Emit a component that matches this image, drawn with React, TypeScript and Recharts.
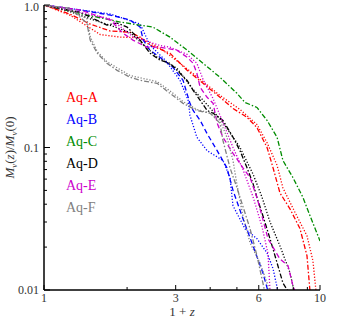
import { LineChart, Line, XAxis, YAxis, Legend } from 'recharts'

// halo names + colours, in legend order
const haloNames = ['Aq-A', 'Aq-B', 'Aq-C', 'Aq-D', 'Aq-E', 'Aq-F']
const haloColors = ['#ff0000', '#0000ff', '#008c00', '#000000', '#cc00cc', '#808080']

// 1+z ticks
const xTicks = [1, 2, 3, 4, 5, 6, 7, 8, 9, 10]
const xLabels = [1, 3, 6, 10]
const yTicks = [0.01, 0.02, 0.03, 0.04, 0.05, 0.06, 0.07, 0.08, 0.09, 0.1, 0.2, 0.3, 0.4, 0.5, 0.6, 0.7, 0.8, 0.9, 1]
const yLabels: Record<number, string> = { 0.01: '0.01', 0.1: '0.1', 1: '1.0' }

// [1+z, Mv(z)/Mv(0)]
const aqA_main = [[1, 1], [1.24, 0.864], [1.47, 0.735], [1.74, 0.656], [2.05, 0.645], [2.23, 0.595], [2.42, 0.523], [2.86, 0.459], [3.3, 0.348], [3.77, 0.282], [4.34, 0.225], [4.84, 0.188], [5.44, 0.163], [5.91, 0.138], [6.43, 0.1], [6.76, 0.072], [7.16, 0.048], [7.79, 0.037], [8.46, 0.027], [8.97, 0.0174], [9.2, 0.0098]]
const aqA_dot = [[1, 1], [1.24, 0.85], [1.6, 0.62], [1.89, 0.595], [2.23, 0.59], [2.63, 0.5], [3.11, 0.39], [3.77, 0.29], [4.34, 0.232], [5.13, 0.185], [5.91, 0.145], [6.43, 0.108], [6.99, 0.075], [7.34, 0.052], [8.12, 0.035], [8.97, 0.024], [9.43, 0.016], [9.67, 0.0098]]

const aqB_main = [[1, 1], [1.35, 0.922], [1.74, 0.85], [2.05, 0.784], [2.23, 0.7], [2.29, 0.567], [2.42, 0.482], [2.63, 0.43], [2.93, 0.366], [3.19, 0.296], [3.38, 0.204], [3.47, 0.182], [3.68, 0.155], [3.9, 0.125], [4.24, 0.095], [4.6, 0.072], [4.84, 0.05], [5.26, 0.0316], [5.72, 0.0204], [6.21, 0.0132], [6.48, 0.0098]]
const aqB_dot = [[1, 1], [1.74, 0.864], [2.23, 0.735], [2.42, 0.523], [2.75, 0.41], [3.11, 0.296], [3.33, 0.214], [3.38, 0.168], [3.58, 0.118], [3.9, 0.095], [4.45, 0.081], [4.72, 0.0615], [4.84, 0.039], [5.35, 0.0269], [5.91, 0.0229], [6.43, 0.0182], [6.76, 0.0141], [7.04, 0.0098]]

const aqC_main = [[1, 1], [1.38, 0.864], [1.89, 0.759], [2.1, 0.735], [2.48, 0.7], [2.86, 0.595], [3.3, 0.482], [3.77, 0.39], [4.34, 0.311], [5.0, 0.24], [5.35, 0.207], [5.91, 0.191], [6.43, 0.155], [6.99, 0.118], [7.34, 0.081], [7.98, 0.0615], [8.68, 0.0445], [9.2, 0.0332], [10, 0.0221]]

const aqD_main = [[1, 1], [1.35, 0.89], [1.69, 0.723], [1.84, 0.747], [2.0, 0.7], [2.23, 0.567], [2.42, 0.459], [2.63, 0.41], [2.86, 0.39], [3.11, 0.332], [3.3, 0.296], [3.47, 0.252], [3.68, 0.214], [3.9, 0.182], [4.1, 0.174], [4.45, 0.155], [4.84, 0.118], [5.13, 0.095], [5.44, 0.072], [5.72, 0.0558], [5.91, 0.0445], [6.21, 0.0332], [6.59, 0.0229], [6.99, 0.0155], [7.34, 0.0112], [7.66, 0.0098]]
const aqD_dot = [[1, 1], [1.24, 0.9], [1.47, 0.8], [1.74, 0.72], [2.05, 0.64], [2.36, 0.5], [2.57, 0.43], [3.03, 0.36], [3.44, 0.26], [3.9, 0.2], [4.45, 0.15], [5.13, 0.1], [5.72, 0.065], [6.16, 0.045], [6.59, 0.03], [7.16, 0.0204], [7.79, 0.0132], [8.05, 0.0098]]

const aqE_main = [[1, 1], [1.35, 0.922], [1.74, 0.784], [1.93, 0.635], [2.1, 0.567], [2.36, 0.506], [2.63, 0.506], [3.03, 0.482], [3.3, 0.43], [3.47, 0.39], [3.58, 0.332], [3.68, 0.264], [3.9, 0.225], [4.1, 0.204], [4.24, 0.148], [4.45, 0.118], [4.84, 0.091], [5.26, 0.072], [5.58, 0.0615], [5.91, 0.0445], [6.16, 0.0332], [6.48, 0.0229], [7.16, 0.0165], [7.66, 0.0148], [7.98, 0.0107], [8.12, 0.0098]]
const aqE_dot = [[1, 1], [1.74, 0.8], [2.1, 0.6], [2.63, 0.52], [2.86, 0.506], [3.3, 0.45], [3.58, 0.39], [3.77, 0.3], [4.1, 0.22], [4.45, 0.15], [4.84, 0.1], [5.26, 0.07], [5.72, 0.045], [6.16, 0.028], [6.48, 0.018], [6.59, 0.0098]]

const aqF_main = [[1, 1], [1.24, 0.95], [1.43, 0.747], [1.47, 0.567], [1.56, 0.459], [1.69, 0.39], [1.84, 0.348], [2.05, 0.311], [2.23, 0.296], [2.57, 0.282], [2.86, 0.24], [3.19, 0.204], [3.58, 0.182], [4.0, 0.174], [4.34, 0.148], [4.45, 0.112], [4.72, 0.072], [5.0, 0.0523], [5.58, 0.0269], [5.91, 0.0174], [6.21, 0.0112], [6.3, 0.0098]]
const aqF_dot = [[1, 1], [1.24, 0.93], [1.43, 0.8], [1.47, 0.6], [1.56, 0.47], [1.69, 0.4], [2.05, 0.32], [2.57, 0.29], [2.86, 0.25], [3.19, 0.21], [3.58, 0.185], [4.0, 0.174], [4.34, 0.155], [4.6, 0.118], [4.84, 0.081], [5.0, 0.055], [5.26, 0.033], [5.58, 0.0214], [6.06, 0.0155], [6.43, 0.0112], [6.59, 0.0098]]

const toPts = (arr: number[][]) => arr.map(([x, y]) => ({ x, y }))

const DASHDOT = '5 2 1.5 2'
const DASHED = '5 3'
const DOTTED = '1.2 1.8'

const series = [
  { key: 'a1', data: aqA_main, color: haloColors[0], dash: DASHDOT },
  { key: 'a2', data: aqA_dot, color: haloColors[0], dash: DOTTED },
  { key: 'b1', data: aqB_main, color: haloColors[1], dash: DASHED },
  { key: 'b2', data: aqB_dot, color: haloColors[1], dash: DOTTED },
  { key: 'c1', data: aqC_main, color: haloColors[2], dash: DASHDOT },
  { key: 'd1', data: aqD_main, color: haloColors[3], dash: DASHDOT },
  { key: 'd2', data: aqD_dot, color: haloColors[3], dash: DOTTED },
  { key: 'e1', data: aqE_main, color: haloColors[4], dash: DASHED },
  { key: 'e2', data: aqE_dot, color: haloColors[4], dash: DOTTED },
  { key: 'f1', data: aqF_main, color: haloColors[5], dash: DASHDOT },
  { key: 'f2', data: aqF_dot, color: haloColors[5], dash: DOTTED },
]

const FONT = '"Times New Roman", "Liberation Serif", "DejaVu Serif", "Noto Serif", Times, serif'
const TXT = '#333'

function BottomTick(props: any) {
  const { x, y, payload } = props
  const major = xLabels.includes(payload.value)
  return (
    <g>
      <line x1={x} x2={x} y1={y} y2={y - (major ? 5 : 3)} stroke="#000" />
      {major && (
        <text x={x} y={y + 12} textAnchor="middle" fontSize={12} fontFamily={FONT} fill={TXT}>
          {payload.value}
        </text>
      )}
    </g>
  )
}

function TopTick(props: any) {
  const { x, y, payload } = props
  const major = xLabels.includes(payload.value)
  return <line x1={x} x2={x} y1={y} y2={y + (major ? 5 : 3)} stroke="#000" />
}

function LeftTick(props: any) {
  const { x, y, payload } = props
  const lab = yLabels[payload.value]
  const dy = payload.value === 1 ? 6 : 4
  return (
    <g>
      <line x1={x} x2={x + (lab ? 6 : 3)} y1={y} y2={y} stroke="#000" />
      {lab && (
        <text x={x - 5} y={y + dy} textAnchor="end" fontSize={12} fontFamily={FONT} fill={TXT}>
          {lab}
        </text>
      )}
    </g>
  )
}

function RightTick(props: any) {
  const { x, y, payload } = props
  const lab = yLabels[payload.value]
  return <line x1={x} x2={x - (lab ? 6 : 3)} y1={y} y2={y} stroke="#000" />
}

function YLabel(props: any) {
  const vb = props.viewBox
  const cx = 14
  const cy = vb.y + vb.height / 2
  return (
    <text x={cx} y={cy} transform={`rotate(-90 ${cx} ${cy})`} textAnchor="middle" fontSize={13} fontFamily={FONT} fill={TXT}>
      <tspan fontStyle="italic">M</tspan>
      <tspan fontStyle="italic" fontSize={9} dy={3}>v</tspan>
      <tspan dy={-3}>(</tspan>
      <tspan fontStyle="italic">z</tspan>
      <tspan>)/</tspan>
      <tspan fontStyle="italic">M</tspan>
      <tspan fontStyle="italic" fontSize={9} dy={3}>v</tspan>
      <tspan dy={-3}>(0)</tspan>
    </text>
  )
}

function XLabel() {
  return (
    <text x={182} y={316} textAnchor="middle" fontSize={13} fontFamily={FONT} fill={TXT}>
      1 + <tspan fontStyle="italic">z</tspan>
    </text>
  )
}

function HaloLegend() {
  return (
    <div style={{ fontFamily: FONT, fontSize: 14, lineHeight: '22px' }}>
      {haloNames.map((n, i) => (
        <div key={n} style={{ color: haloColors[i] }}>{n}</div>
      ))}
    </div>
  )
}

export default function App() {
  return (
    <div style={{ position: 'absolute', left: 0, top: 0, background: '#fff' }}>
      <LineChart width={339} height={326} margin={{ top: 5, right: 19, bottom: 0, left: 0 }}>
        <XAxis
          xAxisId={0}
          type="number"
          dataKey="x"
          scale="log"
          domain={[1, 10]}
          ticks={xTicks}
          interval={0}
          allowDataOverflow
          height={36}
          tickSize={0}
          tickMargin={0}
          tickLine={false}
          axisLine={{ stroke: '#000', strokeWidth: 1.5 }}
          tick={<BottomTick />}
          label={<XLabel />}
        />
        <XAxis
          xAxisId="top"
          orientation="top"
          type="number"
          dataKey="x"
          scale="log"
          domain={[1, 10]}
          ticks={xTicks}
          interval={0}
          allowDataOverflow
          height={0}
          tickSize={0}
          tickMargin={0}
          tickLine={false}
          axisLine={{ stroke: '#000', strokeWidth: 1.5 }}
          tick={<TopTick />}
        />
        <YAxis
          yAxisId={0}
          type="number"
          scale="log"
          domain={[0.01, 1]}
          ticks={yTicks}
          interval={0}
          allowDataOverflow
          width={44}
          tickSize={0}
          tickMargin={0}
          tickLine={false}
          axisLine={{ stroke: '#000', strokeWidth: 1.5 }}
          tick={<LeftTick />}
          label={<YLabel />}
        />
        <YAxis
          yAxisId="right"
          orientation="right"
          type="number"
          scale="log"
          domain={[0.01, 1]}
          ticks={yTicks}
          interval={0}
          allowDataOverflow
          width={0}
          tickSize={0}
          tickMargin={0}
          tickLine={false}
          axisLine={{ stroke: '#000', strokeWidth: 1.5 }}
          tick={<RightTick />}
        />
        <Legend
          layout="vertical"
          align="center"
          verticalAlign="middle"
          content={<HaloLegend />}
          wrapperStyle={{ left: 66, top: 87, width: 'auto', height: 'auto' }}
        />
        {series.map((s) => (
          <Line
            key={s.key}
            data={toPts(s.data)}
            dataKey="y"
            xAxisId={0}
            yAxisId={0}
            stroke={s.color}
            strokeWidth={1.3}
            strokeDasharray={s.dash}
            dot={false}
            activeDot={false}
            isAnimationActive={false}
            legendType="none"
          />
        ))}
      </LineChart>
    </div>
  )
}
